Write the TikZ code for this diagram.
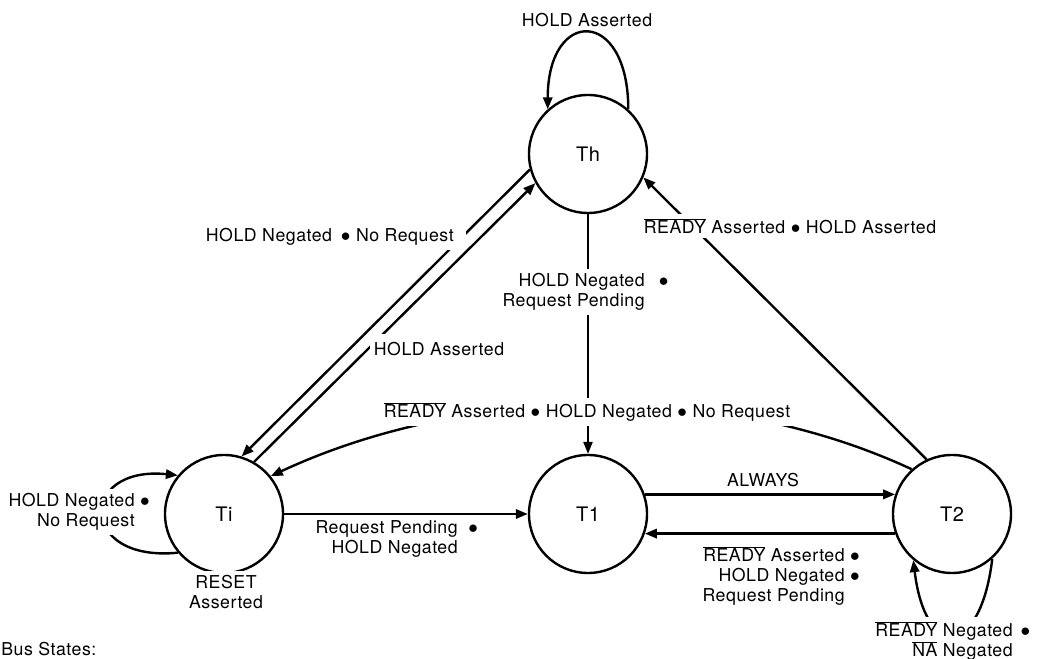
\documentclass[tikz,border=0pt]{standalone}
\usepackage{fontspec}
\setmainfont{TeX Gyre Heros}[LetterSpace=3]
\usetikzlibrary{arrows.meta}
\newcommand{\ovl}[1]{$\overline{\mbox{#1}}$}
\newcommand{\bul}{$\bullet$}

\begin{document}
\begin{tikzpicture}[x=0.75pt,y=0.75pt,
    bstate/.style={draw,circle,line width=1.8pt,minimum size=88.5pt,inner sep=0pt,
        font=\fontsize{15}{18}\selectfont},
    lbl/.style={font=\fontsize{13.3}{15}\selectfont,inner sep=3pt},
    wlbl/.style={lbl,fill=white},
    arr/.style={line width=1.8pt,-{Triangle[length=9pt,width=7pt]}},
    thinarr/.style={line width=1.1pt,-{Triangle[length=9pt,width=7pt]}}]
    \useasboundingbox (0,0) rectangle (1037,659);

    \node[bstate] (Th) at (588,505) {Th};
    \node[bstate] (Ti) at (224,145) {Ti};
    \node[bstate] (T1) at (588,145) {T1};
    \node[bstate] (T2) at (952,145) {T2};

    \draw[arr] (Th.48) .. controls +(0,102) and +(0,102) .. (Th.132);
    \draw[arr] (Th.195) -- (Ti.73);
    \draw[arr] (Ti.60) -- (Th.209);
    \draw[thinarr] (Th.south) -- (T1.north);
    \draw[arr] (T2.132) to[out=155,in=25,looseness=0.85] (Ti.39);
    \draw[arr] (Ti.east) -- (T1.west);
    \draw[arr] (T1.19) -- (T2.161);
    \draw[arr] (T2.199) -- (T1.341);
    \draw[arr] (T2.115) -- (Th.337);
    \draw[arr] (Ti.220) .. controls +(-100,-10) and +(-100,10) .. (Ti.140);
    \draw[arr] (T2.312) .. controls +(-12,-100) and +(12,-100) .. (T2.230);

    \node[lbl] (lblThLoop) at (587,639) {HOLD Asserted};
    \node[wlbl,anchor=east,inner xsep=9pt] (lblNoReq) at (466,422)
        {HOLD Negated\hspace{0.5em}\bul{} No Request};
    \node[wlbl,inner xsep=3pt,inner ysep=6pt] (lblHoldAs) at (439,310) {HOLD Asserted};
    \node[wlbl,anchor=east,align=right] (lblThT1) at (649,367)
        {HOLD Negated\rlap{\hspace{0.8em}\bul}\\Request Pending};
    \node[wlbl] (lblT2Ti) at (587,247)
        {\ovl{READY} Asserted \bul{} HOLD Negated \bul{} No Request};
    \node[lbl,anchor=east,align=right] (lblTiT1) at (462,120)
        {Request Pending\rlap{\hspace{0.6em}\bul}\\HOLD Negated};
    \node[lbl] (lblAlways) at (763,179) {ALWAYS};
    \node[lbl,anchor=east,align=right] (lblT2T1) at (849,83)
        {\ovl{READY} Asserted\rlap{\ \bul}\\HOLD Negated\rlap{\ \bul}\\Request Pending};
    \node[wlbl] (lblT2Th) at (790,433) {\ovl{READY} Asserted \bul{} HOLD Asserted};
    \node[wlbl,anchor=east,align=right] (lblTiLoop) at (139,147)
        {HOLD Negated\rlap{\ \bul}\\No Request};
    \node[wlbl,align=center] (lblReset) at (226,67) {RESET\\Asserted};
    \node[wlbl,anchor=east,align=right] (lblT2Loop) at (1017,18)
        {\ovl{READY} Negated\rlap{\hspace{0.45em}\bul}\\\ovl{NA} Negated};
    \node[lbl,anchor=base west,inner sep=0pt] (lblBus) at (1,3) {Bus States:};
\end{tikzpicture}
\end{document}
